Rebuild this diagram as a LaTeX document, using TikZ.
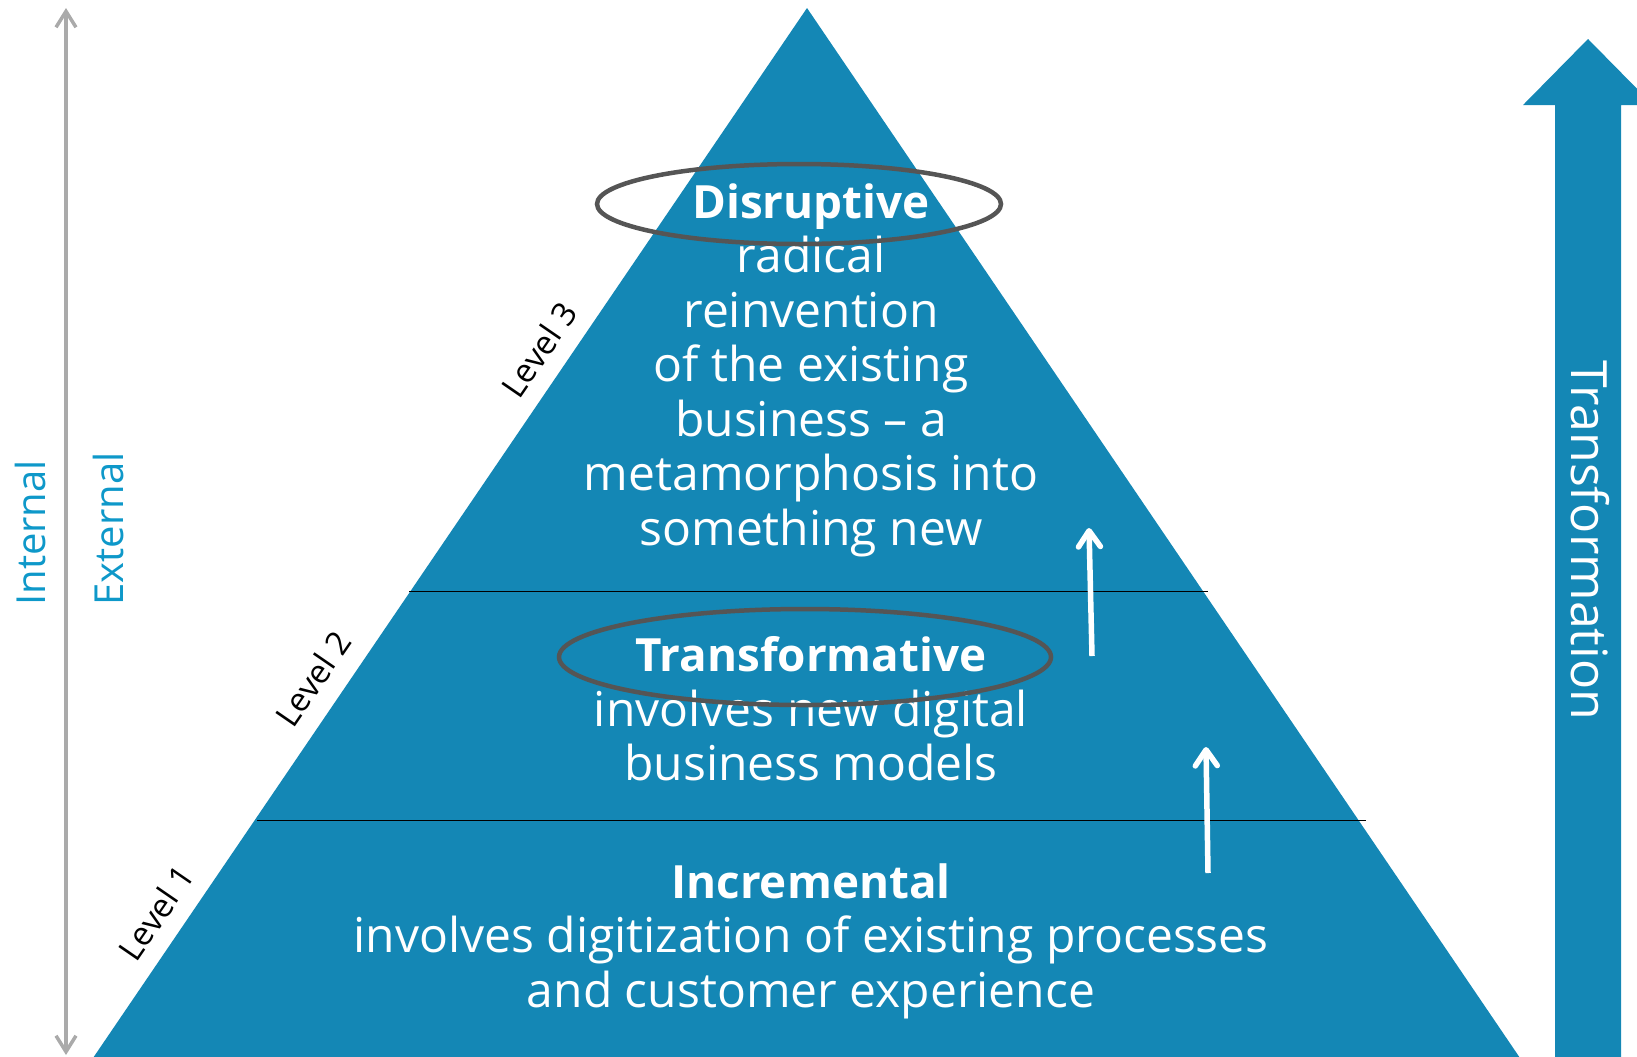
\documentclass[tikz,border=0pt]{standalone}
\usepackage{fontspec}
\setmainfont{Open Sans}
\usetikzlibrary{arrows.meta,positioning,calc}

\definecolor{pyrblue}{RGB}{20,135,181}
\definecolor{sidecyan}{RGB}{14,152,201}
\definecolor{ringgray}{RGB}{85,85,85}
\definecolor{axisgray}{RGB}{170,170,170}

\newcommand{\stufe}[1]{{\fontsize{22.9}{27.25}\selectfont\bfseries #1}}

\tikzset{
  leveltext/.style={text=white, align=center, inner sep=0pt, font=\fontsize{24}{27.25}\selectfont},
  levelname/.style={rotate=55.5, inner sep=0pt, font=\fontsize{16.5}{18}\selectfont},
  sidelabel/.style={text=sidecyan, rotate=90, anchor=west, inner sep=0pt, font=\fontsize{20}{24}\selectfont},
  ring/.style={draw=ringgray, line width=2.25pt},
  upline/.style={draw=white, line width=2.75pt, -{Straight Barb[length=8pt,width=11pt,round]}},
  axisline/.style={draw=axisgray, line width=1.75pt, {Straight Barb[length=8pt,width=10pt]}-{Straight Barb[length=8pt,width=10pt]}}
}

\begin{document}
\begin{tikzpicture}[x=0.5pt, y=-0.5pt]
\useasboundingbox (0,0) rectangle (1637,1056);
\clip (0,0) rectangle (1637,1056);

% pyramide
\coordinate (apex) at (807,8);
\coordinate (baseL) at (93,1058);
\coordinate (baseR) at (1520,1058);
\fill[pyrblue] (apex) -- (baseR) -- (baseL) -- cycle;

% Trennlinien
\draw[line width=0.5pt] (409,591) -- (1208,591);
\draw[line width=0.5pt] (257,820) -- (1366,820);

% Stufen
\node[leveltext] (lvl3) at (811,370) {\stufe{Disruptive}\\radical\\reinvention\\of the existing\\business – a\\metamorphosis into\\something new};
\node[leveltext] (lvl2) at (811,709) {\stufe{Transformative}\\involves new digital\\business models};
\node[leveltext] (lvl1) at (811,941) {\stufe{Incremental}\\involves digitization of existing processes\\and customer experience};

% Ellipsen
\draw[ring] (799,204) ellipse [x radius=202, y radius=40];
\draw[ring] (805,657) ellipse [x radius=246, y radius=48];

% Pfeile
\coordinate (up1s) at (1092,656);
\coordinate (up1e) at (1089,528);
\coordinate (up2s) at (1208,873);
\coordinate (up2e) at (1206,747);
\draw[upline] (up1s) -- (up1e);
\draw[upline] (up2s) -- (up2e);

% Level
\node[levelname] (name3) at (539,350) {Level 3};
\node[levelname] (name2) at (313,679) {Level 2};
\node[levelname] (name1) at (156,913) {Level 1};

% Achse links
\coordinate (axtop) at (66,8);
\coordinate (axbot) at (66,1055);
\draw[axisline] (axtop) -- (axbot);
\node[sidelabel] (internal) at (31,606) {Internal};
\node[sidelabel] (external) at (108,606) {External};

% Pfeil rechts
\fill[pyrblue] (1588,39) -- (1653,105) -- (1621,105) -- (1621,1060) -- (1555,1060) -- (1555,105) -- (1523,105) -- cycle;
\node[text=white, rotate=-90, inner sep=0pt, font=\fontsize{25}{30}\selectfont] (trans) at (1590,540) {Transformation};
\end{tikzpicture}
\end{document}
